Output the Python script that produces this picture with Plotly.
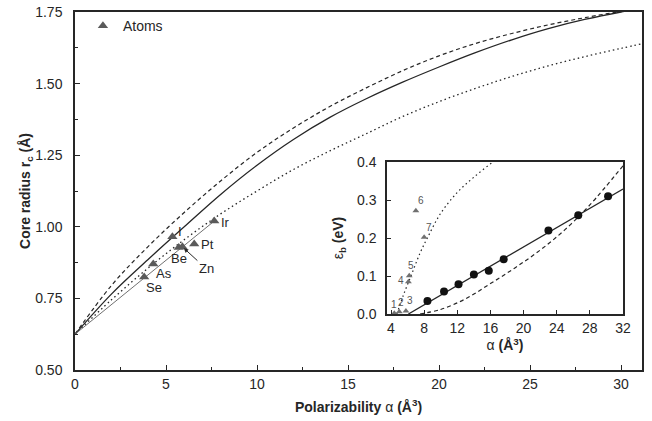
import plotly.graph_objects as go

# ---- main panel: core radius vs polarizability -------------------------
alpha_grid = [0, 2, 4, 6, 8, 10, 12, 14, 16, 18, 20, 22, 24, 26, 28, 30, 31.2]
rc_dashed = [0.625, 0.795, 0.93, 1.05, 1.16, 1.26, 1.345, 1.42, 1.485, 1.545,
             1.597, 1.64, 1.675, 1.705, 1.73, 1.752, 1.762]
rc_solid = [0.625, 0.765, 0.885, 1.0, 1.113, 1.215, 1.305, 1.382, 1.447, 1.505,
            1.558, 1.608, 1.653, 1.692, 1.724, 1.75, 1.763]
rc_dotted = [0.625, 0.745, 0.855, 0.955, 1.045, 1.125, 1.20, 1.265, 1.325, 1.385,
             1.437, 1.483, 1.525, 1.562, 1.594, 1.623, 1.64]

atom_names = ["Se", "As", "I", "Be", "Zn", "Pt", "Ir"]
atom_alpha = [3.8, 4.3, 5.35, 5.7, 5.9, 6.55, 7.65]
atom_rc = [0.825, 0.87, 0.965, 0.928, 0.93, 0.94, 1.02]

# ---- inset: binding energy vs polarizability -----------------------------
clus_alpha = [8.4, 10.4, 12.15, 14.0, 15.8, 17.6, 23.0, 26.6, 30.2]
clus_eb = [0.034, 0.059, 0.078, 0.104, 0.114, 0.144, 0.22, 0.26, 0.31]

fit_alpha = [6.1, 32.0]
fit_eb = [0.0, 0.329]

dash_alpha = [7.5, 10, 13, 16, 19, 22, 25, 28, 32]
dash_eb = [0.0, 0.012, 0.04, 0.08, 0.122, 0.168, 0.222, 0.287, 0.39]

dot_alpha = [4.7, 5.5, 6.5, 7.5, 8.5, 10, 12, 14, 16.3, 17.0]
dot_eb = [0.0, 0.05, 0.105, 0.16, 0.205, 0.265, 0.32, 0.36, 0.40, 0.41]

tri_ids = ["1", "2", "3", "4", "5", "6", "7"]
tri_alpha = [4.4, 5.0, 5.8, 6.1, 6.2, 7.0, 8.0]
tri_eb = [0.002, 0.006, 0.008, 0.085, 0.101, 0.272, 0.202]

INK = "#262626"
GREY = "#5a5a5a"
FONT = "Liberation Sans, Arial, Helvetica, sans-serif"

fig = go.Figure()

fig.add_trace(go.Scatter(x=alpha_grid, y=rc_dashed, mode="lines", showlegend=False,
                         line=dict(color=INK, width=1.2, dash="4px,3px", shape="spline")))
fig.add_trace(go.Scatter(x=alpha_grid, y=rc_solid, mode="lines", showlegend=False,
                         line=dict(color=INK, width=1.3, shape="spline")))
fig.add_trace(go.Scatter(x=alpha_grid, y=rc_dotted, mode="lines", showlegend=False,
                         line=dict(color=INK, width=1.3, dash="1.5px,3px", shape="spline")))
# straight guide from the common origin of the curves to the Ir point
fig.add_trace(go.Scatter(x=[alpha_grid[0], atom_alpha[-1]], y=[rc_solid[0], atom_rc[-1]],
                         mode="lines", showlegend=False,
                         line=dict(color="#707070", width=1)))
fig.add_trace(go.Scatter(x=atom_alpha, y=atom_rc, mode="markers", name="Atoms",
                         marker=dict(symbol="triangle-up", size=9, color=GREY)))

# element labels
label_offsets = {
    "Se": (10, -11, "center"),
    "As": (11, -9, "center"),
    "I": (4, 5, "left"),
    "Be": (0, -11, "center"),
    "Pt": (5, -1, "left"),
    "Ir": (5, -1, "left"),
}
for name, a, r in zip(atom_names, atom_alpha, atom_rc):
    if name == "Zn":
        fig.add_annotation(x=a, y=r, xref="x", yref="y", text=name,
                           showarrow=True, arrowhead=2, arrowsize=0.9, arrowwidth=1,
                           arrowcolor=INK, ax=24, ay=22, standoff=2,
                           font=dict(size=13, color=INK, family=FONT))
        continue
    dx, dy, anchor = label_offsets[name]
    fig.add_annotation(x=a, y=r, xref="x", yref="y", text=name, showarrow=False,
                       xanchor=anchor, yanchor="middle", xshift=dx, yshift=dy,
                       font=dict(size=13, color=INK, family=FONT))

# inset traces
fig.add_trace(go.Scatter(x=dot_alpha, y=dot_eb, xaxis="x2", yaxis="y2", mode="lines",
                         showlegend=False,
                         line=dict(color=INK, width=1.2, dash="1.5px,3px", shape="spline")))
fig.add_trace(go.Scatter(x=dash_alpha, y=dash_eb, xaxis="x2", yaxis="y2", mode="lines",
                         showlegend=False,
                         line=dict(color=INK, width=1.2, dash="4px,3px", shape="spline")))
fig.add_trace(go.Scatter(x=fit_alpha, y=fit_eb, xaxis="x2", yaxis="y2", mode="lines",
                         showlegend=False, line=dict(color=INK, width=1.3)))
fig.add_trace(go.Scatter(x=clus_alpha, y=clus_eb, xaxis="x2", yaxis="y2", mode="markers",
                         showlegend=False, cliponaxis=False,
                         marker=dict(symbol="circle", size=8, color="#111111")))
fig.add_trace(go.Scatter(x=tri_alpha, y=tri_eb, xaxis="x2", yaxis="y2",
                         mode="markers", showlegend=False, cliponaxis=False,
                         marker=dict(symbol="triangle-up", size=6, color="#707070")))

# numbering of the small triangles in the inset
tri_label_shift = {"1": (0, 9), "2": (2, 9), "3": (4, 10), "4": (-7, 1),
                   "5": (2, 10), "6": (5, 10), "7": (5, 10)}
for tid, a, e in zip(tri_ids, tri_alpha, tri_eb):
    dx, dy = tri_label_shift[tid]
    fig.add_annotation(x=a, y=e, xref="x2", yref="y2", text=tid, showarrow=False,
                       xanchor="center", yanchor="middle", xshift=dx, yshift=dy,
                       font=dict(size=10, color="#555555", family=FONT))

axis_common = dict(showline=True, mirror=True, linecolor=INK, linewidth=1.5,
                   showgrid=False, zeroline=False, ticks="inside", tickcolor=INK,
                   tickfont=dict(size=14, color=INK, family=FONT))

fig.update_layout(
    width=652, height=421,
    margin=dict(l=75, r=10, t=12, b=51, autoexpand=False),
    paper_bgcolor="white", plot_bgcolor="white",
    font=dict(family=FONT, size=14, color=INK),
    legend=dict(x=0.014, y=1.005, xanchor="left", yanchor="top",
                bgcolor="rgba(0,0,0,0)", font=dict(size=14, color=INK, family=FONT)),
    xaxis=dict(axis_common, range=[0, 31.15], tickvals=[0, 5, 10, 15, 20, 25, 30],
               ticklen=5, minor=dict(ticks="inside", ticklen=3, tick0=0, dtick=2.5,
                                     tickcolor=INK),
               title=dict(text="<b>Polarizability</b> α <b>(Å<sup>3</sup>)</b>",
                          standoff=12, font=dict(size=14, color=INK, family=FONT))),
    yaxis=dict(axis_common, range=[0.5, 1.75],
               tickvals=[0.5, 0.75, 1.0, 1.25, 1.5, 1.75], tickformat=".2f",
               ticklen=5, ticklabelstandoff=8,
               minor=dict(ticks="inside", ticklen=3, tick0=0.5, dtick=0.125,
                          tickcolor=INK),
               title=dict(text="<b>Core radius r<sub>c</sub> (Å)</b>", standoff=0,
                          font=dict(size=14, color=INK, family=FONT))),
    xaxis2=dict(axis_common, domain=[0.5503, 0.9665], anchor="y2", range=[3.52, 32],
                tickvals=[4, 8, 12, 16, 20, 24, 28, 32], ticklen=4,
                title=dict(text="α <b>(Å<sup>3</sup>)</b>", standoff=0,
                           font=dict(size=14, color=INK, family=FONT))),
    yaxis2=dict(axis_common, domain=[0.1564, 0.581], anchor="x2", range=[0, 0.4],
                tickvals=[0, 0.1, 0.2, 0.3, 0.4], tickformat=".1f", ticklen=4,
                ticklabelstandoff=6,
                title=dict(text="ε<b><sub>b</sub> (eV)</b>", standoff=10,
                           font=dict(size=14, color=INK, family=FONT))),
)

fig.write_html("out.html")
